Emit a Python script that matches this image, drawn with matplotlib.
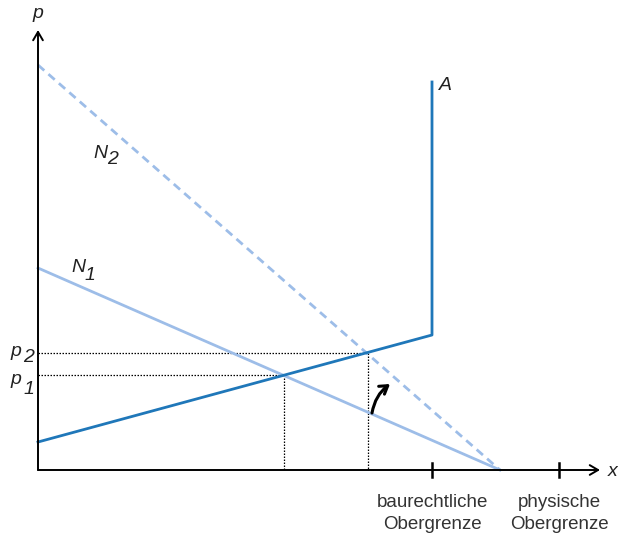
import matplotlib.pyplot as plt

# Achsenwerte (Einheiten: relativ zum Ursprung)
x_bau = 394          # baurechtliche Obergrenze
x_phys = 521         # physische Obergrenze
x_end = 462          # Schnitt der Nachfragekurven mit der x-Achse

# Angebotskurve A
a_x = [0, 394, 394]
a_y = [28, 135, 388]

# Nachfragekurven
n1_x = [0, 462]
n1_y = [202, 0]
n2_x = [0, 462]
n2_y = [405, 0]

# Gleichgewichte
eq_x = [246, 330]
eq_p = [95, 117]

dark = "#1f77b9"
light = "#9dbde8"

plt.rcParams["font.family"] = ["Liberation Sans", "DejaVu Sans"]

fig = plt.figure(figsize=(6.18, 5.35), dpi=100)
ax = fig.add_axes([0, 0, 1, 1])
ax.set_xlim(-38, 580)
ax.set_ylim(-65, 470)
ax.axis("off")

# Achsen mit Pfeilen
ax.annotate("", xy=(0, 440), xytext=(0, 0),
            arrowprops=dict(arrowstyle="->,head_length=0.6,head_width=0.35", lw=1.4, color="black",
                            shrinkA=0, shrinkB=0))
ax.annotate("", xy=(562, 0), xytext=(0, 0),
            arrowprops=dict(arrowstyle="->,head_length=0.6,head_width=0.35", lw=1.4, color="black",
                            shrinkA=0, shrinkB=0))
ax.text(0, 457, "p", fontsize=14, style="italic", ha="center", va="center", color="#222222")
ax.text(575, -1, "x", fontsize=14, style="italic", ha="center", va="center", color="#222222")

for xt in [x_bau, x_phys]:
    ax.plot([xt, xt], [-7, 7], color="black", lw=1.8)
ax.text(x_bau, -24, "baurechtliche\nObergrenze", fontsize=13.5, ha="center", va="top",
        color="#333333", linespacing=1.4)
ax.text(x_phys, -24, "physische\nObergrenze", fontsize=13.5, ha="center", va="top",
        color="#333333", linespacing=1.4)

# Hilfslinien
for x0, p0 in zip(eq_x, eq_p):
    ax.plot([0, x0, x0], [p0, p0, 0], color="black", lw=0.9, ls=(0, (1.2, 1.2)))

# Kurven
ax.plot(n1_x, n1_y, color=light, lw=2)
ax.plot(n2_x, n2_y, color=light, lw=2, ls=(0, (3, 2)))
ax.plot(a_x, a_y, color=dark, lw=2)

# Pfeil der Nachfrageverschiebung
ax.annotate("", xy=(352, 86), xytext=(334, 57),
            arrowprops=dict(arrowstyle="->,head_length=0.55,head_width=0.35", lw=2.2, color="black",
                            connectionstyle="arc3,rad=-0.2", shrinkA=0, shrinkB=0))

# Beschriftungen
ax.text(407, 385, "A", fontsize=14, style="italic", ha="center", va="center", color="#222222")
ax.text(62, 317, "N", fontsize=14, style="italic", ha="center", va="center", color="#222222")
ax.text(75, 310, "2", fontsize=14, style="italic", ha="center", va="center", color="#222222")
ax.text(40, 202, "N", fontsize=14, style="italic", ha="center", va="center", color="#222222")
ax.text(52, 195, "1", fontsize=14, style="italic", ha="center", va="center", color="#222222")
ax.text(-22, 119, "p", fontsize=14, style="italic", ha="center", va="center", color="#222222")
ax.text(-9, 112, "2", fontsize=14, style="italic", ha="center", va="center", color="#222222")
ax.text(-22, 91, "p", fontsize=14, style="italic", ha="center", va="center", color="#222222")
ax.text(-9, 81, "1", fontsize=14, style="italic", ha="center", va="center", color="#222222")

fig.savefig("out.png", dpi=100)
